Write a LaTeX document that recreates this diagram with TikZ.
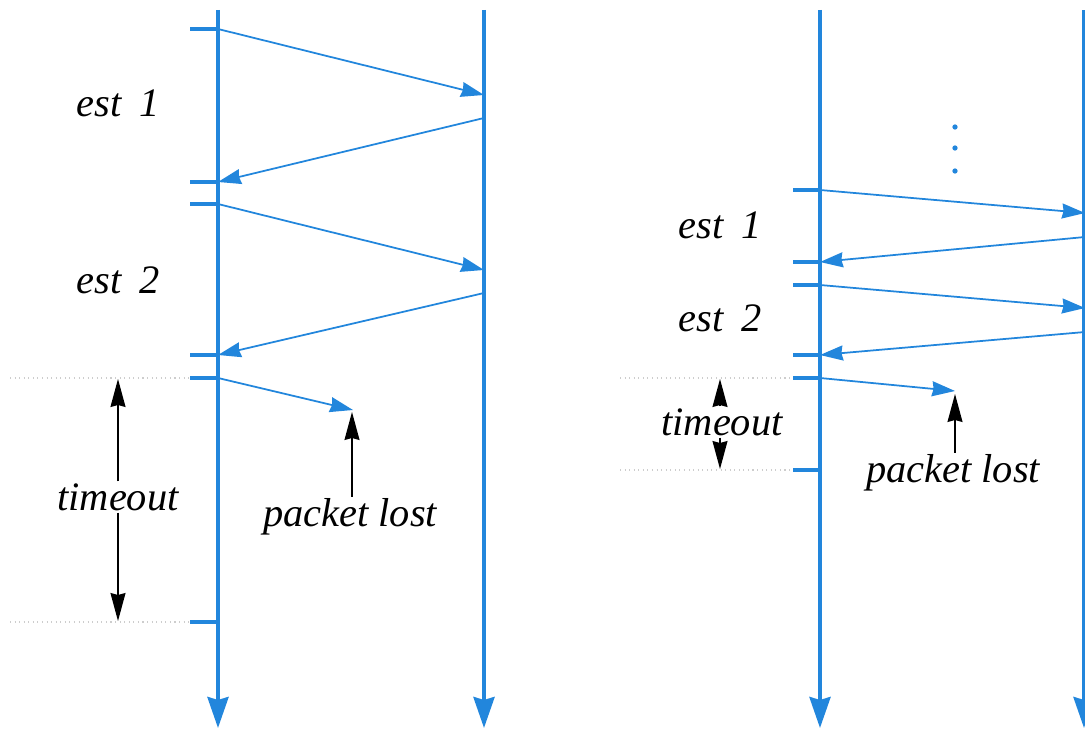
\documentclass[tikz,border=0pt]{standalone}
\usepackage{fontspec}
\setmainfont{Liberation Serif}
\usetikzlibrary{arrows.meta, positioning}
\definecolor{seqblue}{RGB}{34,134,220}
\definecolor{guidegrey}{RGB}{205,205,205}

\begin{document}
\begin{tikzpicture}[x=0.02cm, y=-0.02cm,
    life/.style={seqblue, line width=2.2pt, -{Stealth[length=0.62cm, width=0.42cm, inset=0.06cm]}},
    tickmark/.style={seqblue, line width=2pt},
    msg/.style={seqblue, line width=1pt, -{Stealth[length=0.46cm, width=0.3cm, inset=0.03cm]}},
    guide/.style={guidegrey, dotted, line width=0.6pt},
    lbl/.style={font=\fontsize{23}{27}\selectfont\itshape, inner sep=1pt},
    pointer/.style={black, line width=0.7pt, -{Stealth[length=0.56cm, width=0.3cm, inset=0.04cm]}}]
\useasboundingbox (0,0) rectangle (1085,729);

% left: lifelines
\coordinate (cTop) at (218,10);  \coordinate (cBot) at (218,728);
\coordinate (sTop) at (484,10);  \coordinate (sBot) at (484,728);
\draw[life] (cTop) -- (cBot);
\draw[life] (sTop) -- (sBot);

\foreach \y/\n in {29/1, 182/2, 204/3, 355/4, 378/5, 622/6} {
    \coordinate (c\n) at (218,\y);
    \draw[tickmark] (190,\y) -- (c\n);
}
\foreach \y/\n in {95/1, 118/2, 270/3, 293/4} \coordinate (s\n) at (484,\y);
\coordinate (cLost) at (353,410);

\draw[msg] (c1) -- (s1);
\draw[msg] (s2) -- (c2);
\draw[msg] (c3) -- (s3);
\draw[msg] (s4) -- (c4);
\draw[msg] (c5) -- (cLost);

\draw[guide] (10,378) -- (190,378);
\draw[guide] (10,622) -- (190,622);

\node[lbl] (cEst1) at (118,103) {est\hspace{0.45em}1};
\node[lbl] (cEst2) at (118,280) {est\hspace{0.45em}2};
\node[lbl] (cTimeout) at (118,497) {timeout};
\node[lbl] (cPacket) at (350,517) {packet lost};

\coordinate (cToTop) at (118,379);
\coordinate (cToBot) at (118,621);
\coordinate (cLostTip) at (352,412);
\draw[pointer] (cTimeout.north) -- (cToTop);
\draw[pointer] (cTimeout.south) -- (cToBot);
\draw[pointer] (cPacket.north -| cLostTip) -- (cLostTip);

% right: lifelines
\coordinate (rTop) at (820,10);  \coordinate (rBot) at (820,728);
\coordinate (qTop) at (1084,10); \coordinate (qBot) at (1084,728);
\draw[life] (rTop) -- (rBot);
\draw[life] (qTop) -- (qBot);

\foreach \y/\n in {190/1, 262/2, 285/3, 355/4, 378/5, 470/6} {
    \coordinate (r\n) at (820,\y);
    \draw[tickmark] (793,\y) -- (r\n);
}
\foreach \y/\n in {213/1, 237/2, 308/3, 332/4} \coordinate (q\n) at (1085,\y);
\coordinate (rLost) at (955,391);

\draw[msg] (r1) -- (q1);
\draw[msg] (q2) -- (r2);
\draw[msg] (r3) -- (q3);
\draw[msg] (q4) -- (r4);
\draw[msg] (r5) -- (rLost);

\foreach \y in {127,148,171} \fill[seqblue] (955,\y) circle (1.5pt);

\draw[guide] (620,378) -- (793,378);
\draw[guide] (620,470) -- (793,470);

\node[lbl] (rEst1) at (720,225) {est\hspace{0.45em}1};
\node[lbl] (rEst2) at (720,318) {est\hspace{0.45em}2};
\node[lbl] (rTimeout) at (722,422) {timeout};
\node[lbl] (rPacket) at (953,473) {packet lost};

\coordinate (rToTop) at (720,379);
\coordinate (rToBot) at (720,469);
\coordinate (rLostTip) at (955,394);
\draw[pointer] (rTimeout.north -| rToTop) -- (rToTop);
\draw[pointer] (rTimeout.south -| rToBot) -- (rToBot);
\draw[pointer] (rPacket.north -| rLostTip) -- (rLostTip);
\end{tikzpicture}
\end{document}
